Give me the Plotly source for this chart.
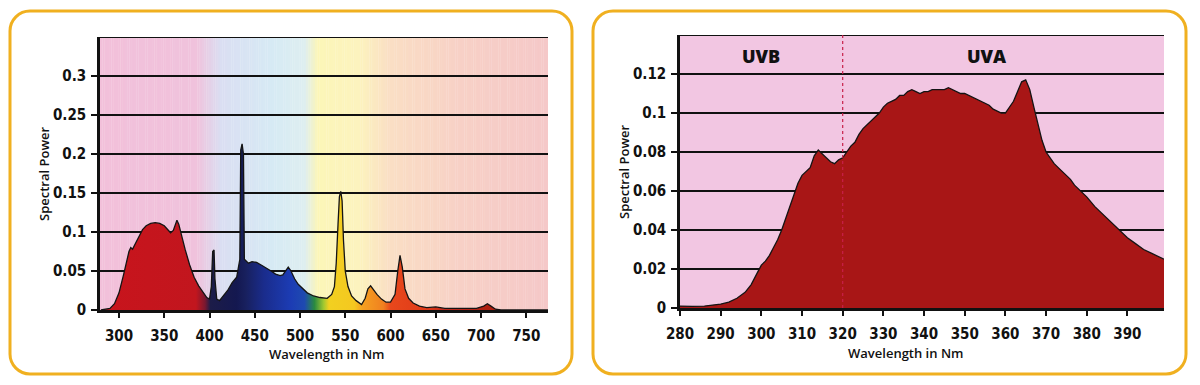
import plotly.graph_objects as go

# ---------------- data ----------------
left_wl = [280, 290, 295, 300, 305, 308, 311, 313, 315, 318, 322, 326, 330, 335, 340, 345, 350, 354, 357,
           360, 362, 364, 366, 369, 373, 378, 383, 388, 393, 397, 400, 402, 403.5, 405, 406, 408, 411,
           415, 420, 425, 430, 433.5, 434.5, 436, 437.5, 438.5, 440, 443, 447, 452, 458, 463, 468, 473,
           478, 481, 485, 487, 490, 494, 498, 503, 508, 515, 522, 530, 535, 538, 540, 542, 543.5, 545,
           546.5, 548, 550, 553, 557, 562, 568, 572, 575, 578, 581, 585, 590, 595, 600, 605, 608, 610.5,
           613, 616, 620, 625, 632, 640, 650, 660, 680, 695, 703, 707, 711, 716, 722, 775]
left_power = [0.0, 0.002, 0.008, 0.022, 0.045, 0.062, 0.075, 0.080, 0.078, 0.085, 0.095, 0.103, 0.108,
              0.111, 0.112, 0.111, 0.108, 0.103, 0.099, 0.102, 0.110, 0.115, 0.110, 0.095, 0.078, 0.058,
              0.042, 0.031, 0.022, 0.016, 0.014, 0.030, 0.075, 0.077, 0.040, 0.014, 0.012, 0.018, 0.025,
              0.035, 0.042, 0.065, 0.205, 0.213, 0.200, 0.065, 0.063, 0.060, 0.062, 0.061, 0.057, 0.054,
              0.050, 0.046, 0.044, 0.045, 0.052, 0.055, 0.050, 0.040, 0.033, 0.027, 0.022, 0.018, 0.016,
              0.015, 0.020, 0.030, 0.060, 0.110, 0.145, 0.152, 0.140, 0.090, 0.050, 0.030, 0.018, 0.012,
              0.007, 0.015, 0.027, 0.031, 0.026, 0.020, 0.014, 0.010, 0.010, 0.020, 0.050, 0.070, 0.055,
              0.027, 0.015, 0.009, 0.005, 0.003, 0.004, 0.002, 0.002, 0.002, 0.005, 0.008, 0.005, 0.001,
              0.0, 0.0]

right_wl = [280, 283, 286, 288, 290, 292, 294, 296, 297.5, 299, 300, 301, 302, 303, 304, 305, 306, 307,
            308, 309, 310, 311, 312, 313, 314, 315, 316, 317, 318, 319, 320, 321, 322, 323, 324, 325, 326,
            327, 328, 329, 330, 331, 332, 333, 334, 335, 336, 337, 338, 339, 340, 341, 342, 343, 344, 345,
            346, 347, 348, 349, 350, 351, 352, 353, 354, 355, 356, 357, 358, 359, 360, 361, 362, 363, 364,
            365, 366, 367, 368, 369, 370, 371, 372, 373, 374, 375, 376, 377, 378, 380, 382, 384, 386, 388,
            390, 392, 394, 396, 398, 399]
right_power = [0.001, 0.0008, 0.001, 0.0015, 0.002, 0.003, 0.005, 0.008, 0.012, 0.018, 0.022, 0.024,
               0.027, 0.031, 0.035, 0.040, 0.046, 0.052, 0.058, 0.064, 0.068, 0.070, 0.072, 0.078, 0.081,
               0.079, 0.077, 0.075, 0.074, 0.076, 0.077, 0.080, 0.083, 0.085, 0.089, 0.092, 0.094, 0.096,
               0.098, 0.100, 0.103, 0.105, 0.106, 0.107, 0.109, 0.109, 0.111, 0.112, 0.111, 0.110, 0.111,
               0.111, 0.112, 0.112, 0.112, 0.112, 0.113, 0.112, 0.111, 0.110, 0.110, 0.109, 0.108, 0.107,
               0.106, 0.105, 0.104, 0.102, 0.101, 0.100, 0.100, 0.103, 0.106, 0.111, 0.116, 0.117, 0.112,
               0.103, 0.094, 0.086, 0.080, 0.077, 0.074, 0.072, 0.070, 0.068, 0.066, 0.063, 0.061, 0.057,
               0.052, 0.048, 0.044, 0.040, 0.036, 0.033, 0.030, 0.028, 0.026, 0.025]

left_xticks = [300, 350, 400, 450, 500, 550, 600, 650, 700, 750]
left_yticks = [0, 0.05, 0.1, 0.15, 0.2, 0.25, 0.3]
left_ytext = ["0", "0.05", "0.1", "0.15", "0.2", "0.25", "0.3"]
right_xticks = [280, 290, 300, 310, 320, 330, 340, 350, 360, 370, 380, 390]
right_yticks = [0, 0.02, 0.04, 0.06, 0.08, 0.1, 0.12]
right_ytext = ["0", "0.02", "0.04", "0.06", "0.08", "0.1", "0.12"]

# ---------------- styling ----------------
W, H = 1200, 385
OFF = 8  # page body margin offset
LX = (279, 774)
LY = (0, 0.35)
RX = (280, 399)
RY = (0, 0.14)


def PX(v):
    return (v - OFF) / W


def PY(v):
    return 1 - (v - OFF) / H


TICKFONT = dict(family="DejaVu Sans Condensed, Liberation Sans Narrow, Roboto, sans-serif",
                size=15, color="#111111", weight="bold")
TITLEFONT = dict(family="Open Sans, DejaVu Sans, sans-serif", size=13, color="#111111", weight=600)

spec_stops = [(280, "#c8141c"), (385, "#c2161e"), (395, "#7a1830"), (401, "#1c1c48"), (430, "#141850"),
              (440, "#18205e"), (460, "#1a2c8c"), (490, "#1c3cb4"), (505, "#1e4ab0"), (516, "#2a8a40"),
              (526, "#a0c830"), (532, "#f2d020"), (560, "#f4c820"), (569, "#f5a020"), (592, "#f08020"),
              (600, "#e8481c"), (640, "#e03a18"), (660, "#c02818"), (700, "#b02010"), (775, "#a01c10")]
span = 775 - 280
spec_scale = [[(w - 280) / span, c] for w, c in spec_stops]

bg_stops = [(279, (242, 192, 218)), (385, (240, 194, 220)), (413, (218, 222, 242)), (470, (214, 234, 244)),
            (505, (222, 238, 240)), (520, (252, 246, 184)), (565, (252, 243, 190)), (600, (250, 222, 196)),
            (680, (247, 208, 198)), (774, (245, 200, 200))]


def bg_color(w):
    for (w0, c0), (w1, c1) in zip(bg_stops[:-1], bg_stops[1:]):
        if w0 <= w <= w1:
            t = (w - w0) / (w1 - w0)
            return "rgb(%d,%d,%d)" % tuple(round(a + (b - a) * t) for a, b in zip(c0, c1))
    return "rgb(%d,%d,%d)" % bg_stops[-1][1]


fig = go.Figure()

fig.add_trace(go.Scatter(
    x=left_wl, y=left_power, mode="lines", fill="tozeroy",
    line=dict(color="#141414", width=1.3),
    fillgradient=dict(type="horizontal", colorscale=spec_scale, start=280, stop=775),
    xaxis="x", yaxis="y", hoverinfo="skip", showlegend=False))

fig.add_trace(go.Scatter(
    x=right_wl, y=right_power, mode="lines", fill="tozeroy",
    line=dict(color="#141414", width=1.3), fillcolor="#a81616",
    xaxis="x2", yaxis="y2", hoverinfo="skip", showlegend=False))

shapes = []
shapes.append(dict(type="rect", xref="x2", yref="y2", x0=RX[0], x1=RX[1], y0=RY[0], y1=RY[1],
                   fillcolor="rgb(242,198,226)", line=dict(width=0), layer="below"))
step = 2.5
w = LX[0]
while w < LX[1]:
    shapes.append(dict(type="rect", xref="x", yref="y", x0=w, x1=min(w + step + 0.3, LX[1]),
                       y0=LY[0], y1=LY[1], fillcolor=bg_color(w + step / 2), line=dict(width=0),
                       layer="below"))
    w += step
shapes.append(dict(type="line", xref="x", yref="y", x0=LX[0], x1=LX[1], y0=LY[1], y1=LY[1],
                   line=dict(color="#111", width=2)))
shapes.append(dict(type="line", xref="x2", yref="y2", x0=RX[0], x1=RX[1], y0=RY[1], y1=RY[1],
                   line=dict(color="#111", width=2)))
shapes.append(dict(type="line", xref="x2", yref="y2", x0=320, x1=320, y0=0, y1=RY[1],
                   line=dict(color="#c8204a", width=1.2, dash="dot"), layer="above"))


def rounded(x0, y0, x1, y1, r):
    k = 0.55 * r
    p = (f"M {PX(x0 + r)},{PY(y0)} L {PX(x1 - r)},{PY(y0)} "
         f"C {PX(x1 - r + k)},{PY(y0)} {PX(x1)},{PY(y0 + r - k)} {PX(x1)},{PY(y0 + r)} "
         f"L {PX(x1)},{PY(y1 - r)} "
         f"C {PX(x1)},{PY(y1 - r + k)} {PX(x1 - r + k)},{PY(y1)} {PX(x1 - r)},{PY(y1)} "
         f"L {PX(x0 + r)},{PY(y1)} "
         f"C {PX(x0 + r - k)},{PY(y1)} {PX(x0)},{PY(y1 - r + k)} {PX(x0)},{PY(y1 - r)} "
         f"L {PX(x0)},{PY(y0 + r)} "
         f"C {PX(x0)},{PY(y0 + r - k)} {PX(x0 + r - k)},{PY(y0)} {PX(x0 + r)},{PY(y0)} Z")
    return dict(type="path", xref="paper", yref="paper", path=p,
                line=dict(color="#f0b020", width=3), layer="below")


shapes.append(rounded(10, 11, 572, 374, 20))
shapes.append(rounded(593, 11, 1186, 374, 20))


def ax_common():
    return dict(showline=True, linecolor="#111", linewidth=2.5, ticks="outside", tickcolor="#111",
                tickwidth=2, zeroline=False, tickfont=TICKFONT, fixedrange=True, automargin=False)


fig.update_layout(
    width=W, height=H, margin=dict(l=0, r=0, t=0, b=0, pad=0, autoexpand=False),
    paper_bgcolor="white", plot_bgcolor="rgba(0,0,0,0)",
    shapes=shapes,
    xaxis=dict(domain=[PX(100), PX(548)], range=list(LX), tickvals=left_xticks, ticklen=5,
               showgrid=False, anchor="y", ticklabelstandoff=5, **ax_common()),
    yaxis=dict(domain=[PY(310), PY(37)], range=list(LY), tickvals=left_yticks,
               ticktext=left_ytext, ticklen=6, showgrid=True, gridcolor="#111", gridwidth=1.8,
               anchor="x", ticklabelstandoff=2, **ax_common()),
    xaxis2=dict(domain=[PX(680), PX(1164)], range=list(RX), tickvals=right_xticks, ticklen=5,
                showgrid=False, anchor="y2", ticklabelstandoff=5, **ax_common()),
    yaxis2=dict(domain=[PY(308), PY(35)], range=list(RY), tickvals=right_yticks,
                ticktext=right_ytext, ticklen=6, showgrid=True, gridcolor="#111", gridwidth=1.8,
                anchor="x2", ticklabelstandoff=2, **ax_common()),
    annotations=[
        dict(text="Spectral Power", x=PX(44), y=PY(174), xref="paper", yref="paper",
             textangle=-90, showarrow=False, font=TITLEFONT, xanchor="center", yanchor="middle"),
        dict(text="Wavelength in Nm", x=PX(326), y=PY(354), xref="paper", yref="paper",
             showarrow=False, font=TITLEFONT, xanchor="center", yanchor="middle"),
        dict(text="Spectral Power", x=PX(624), y=PY(172), xref="paper", yref="paper",
             textangle=-90, showarrow=False, font=TITLEFONT, xanchor="center", yanchor="middle"),
        dict(text="Wavelength in Nm", x=PX(905), y=PY(353), xref="paper", yref="paper",
             showarrow=False, font=TITLEFONT, xanchor="center", yanchor="middle"),
        dict(text="UVB", x=300, y=0.129, xref="x2", yref="y2", showarrow=False,
             font=dict(family="Open Sans, DejaVu Sans, sans-serif", size=18, color="#111", weight=800)),
        dict(text="UVA", x=355.5, y=0.129, xref="x2", yref="y2", showarrow=False,
             font=dict(family="Open Sans, DejaVu Sans, sans-serif", size=18, color="#111", weight=800)),
    ],
)

fig.write_html("out.html")
